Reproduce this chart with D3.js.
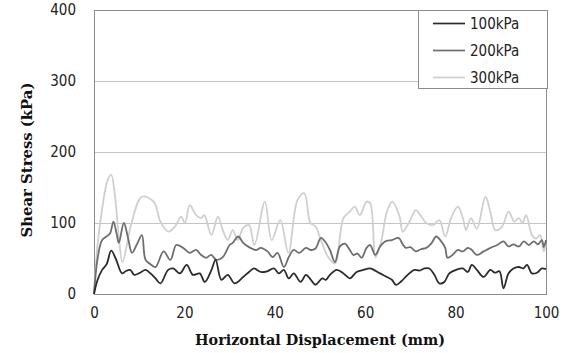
<!DOCTYPE html>
<html>
<head>
<meta charset="utf-8">
<script src="https://cdn.jsdelivr.net/npm/d3@7"></script>
<style>
  body { margin: 0; background: #fff; }
  svg { display: block; }
</style>
</head>
<body>
<div id="chart"></div>
<script>
const seriesNames = ['100kPa', '200kPa', '300kPa'];
const xTicks = [0, 20, 40, 60, 80, 100];
const yTicks = [0, 100, 200, 300, 400];

const disp100 = [0, 0.8, 1.8, 2.8, 3.8, 4.8, 6.2, 7.0, 8.0, 8.9, 10.2, 11.4, 12.5, 13.6, 14.7, 16.4, 17.5, 19.0, 20.5, 21.9, 23.4, 24.5, 26.0, 26.9, 28.2, 29.6, 31.1, 33.0, 34.3, 35.4, 36.9, 38.3, 39.8, 40.9, 42.0, 43.1, 44.2, 45.7, 46.9, 48.0, 49.0, 50.5, 51.3, 52.2, 53.7, 55.2, 56.6, 58.1, 59.6, 61.1, 62.2, 63.3, 64.8, 65.9, 66.8, 68.0, 69.4, 70.9, 72.0, 73.1, 74.2, 75.3, 76.4, 77.5, 78.6, 80.1, 81.6, 82.7, 83.6, 84.7, 86.2, 87.7, 88.7, 89.7, 90.6, 91.7, 92.8, 94.0, 95.0, 95.8, 96.9, 98.0, 99.1, 100];
const shear100 = [0, 20, 34, 42, 61, 50, 29, 32, 34, 27, 30, 34, 29, 22, 15, 34, 36, 29, 41, 27, 29, 17, 34, 48, 20, 27, 15, 24, 31, 36, 31, 32, 36, 29, 34, 22, 29, 17, 27, 20, 13, 22, 20, 27, 34, 29, 22, 31, 34, 36, 33, 29, 24, 20, 13, 18, 27, 34, 33, 36, 36, 27, 15, 17, 29, 34, 36, 31, 41, 34, 24, 34, 30, 32, 8, 29, 36, 38, 36, 41, 29, 30, 36, 35];

const disp200 = [0, 0.8, 1.8, 3.0, 3.6, 4.3, 5.0, 5.5, 6.6, 7.5, 8.4, 9.5, 10.6, 11.4, 12.5, 13.6, 15.4, 16.9, 18.2, 19.7, 21.2, 22.6, 23.7, 24.8, 25.9, 27.1, 28.5, 30.0, 30.7, 31.9, 33.0, 34.3, 35.8, 36.9, 38.4, 39.5, 40.6, 42.0, 43.1, 44.2, 45.4, 46.9, 48.0, 49.0, 50.2, 51.1, 52.2, 53.3, 54.4, 55.5, 56.6, 57.4, 58.3, 59.2, 60.3, 61.1, 62.2, 63.3, 64.4, 65.9, 67.4, 68.2, 69.0, 70.0, 71.2, 72.3, 73.5, 74.6, 75.7, 76.6, 77.7, 78.2, 79.3, 80.5, 81.6, 82.7, 83.6, 84.7, 86.2, 87.7, 89.2, 90.6, 91.7, 92.8, 94.0, 95.1, 96.2, 97.3, 98.2, 99.1, 99.5, 100];
const shear200 = [0, 50, 76, 82, 86, 102, 85, 72, 100, 80, 58, 70, 83, 48, 42, 38, 60, 48, 69, 65, 58, 62, 55, 51, 55, 48, 52, 69, 72, 81, 72, 66, 62, 65, 60, 52, 58, 38, 52, 62, 58, 65, 62, 64, 79, 74, 62, 45, 67, 71, 62, 55, 57, 51, 65, 69, 55, 67, 74, 76, 79, 71, 65, 66, 60, 63, 65, 71, 81, 76, 65, 51, 55, 62, 60, 65, 62, 55, 60, 65, 69, 74, 67, 70, 67, 74, 69, 74, 70, 76, 66, 76];

const disp300 = [0, 0.8, 1.8, 3.0, 3.8, 4.6, 5.5, 6.3, 8.3, 10.6, 13.2, 14.7, 16.4, 17.9, 19.3, 20.1, 21.2, 22.6, 23.7, 24.4, 26.0, 27.4, 28.5, 29.6, 30.7, 31.8, 33.0, 34.3, 35.5, 37.8, 39.3, 41.2, 43.0, 45.0, 46.5, 47.9, 49.0, 50.2, 51.8, 53.3, 55.2, 56.6, 57.7, 58.8, 60.3, 61.1, 62.3, 63.6, 64.8, 66.0, 67.6, 68.3, 69.8, 71.2, 72.3, 73.5, 75.0, 76.4, 77.7, 79.0, 80.5, 81.6, 82.3, 83.4, 84.7, 86.6, 87.7, 88.8, 90.3, 91.7, 93.0, 94.0, 94.8, 95.6, 96.9, 97.8, 98.7, 99.5, 100];
const shear300 = [0, 70, 120, 160, 168, 140, 80, 45, 100, 137, 130, 102, 88, 95, 109, 100, 125, 111, 107, 111, 83, 109, 90, 76, 90, 76, 93, 97, 69, 130, 76, 104, 58, 132, 142, 100, 95, 76, 52, 43, 107, 116, 123, 111, 130, 128, 52, 76, 116, 130, 109, 88, 102, 118, 110, 100, 97, 104, 81, 107, 123, 107, 90, 107, 92, 137, 115, 90, 95, 116, 102, 107, 100, 111, 83, 78, 83, 60, 70];

const series = [
  { name: seriesNames[0], x: disp100, y: shear100, color: '#2b2b2b' },
  { name: seriesNames[1], x: disp200, y: shear200, color: '#6e6e6e' },
  { name: seriesNames[2], x: disp300, y: shear300, color: '#cfcfcf' },
];

const W = 568, H = 353;
const margin = { top: 10, right: 22, bottom: 59, left: 94 };
const width = W - margin.left - margin.right;
const height = H - margin.top - margin.bottom;

const svg = d3.select('#chart').append('svg')
  .attr('width', W)
  .attr('height', H);

const g = svg.append('g')
  .attr('transform', `translate(${margin.left},${margin.top})`);

const x = d3.scaleLinear().domain([0, 100]).range([0, width]);
const y = d3.scaleLinear().domain([0, 400]).range([height, 0]);

// gridlines
g.append('g')
  .selectAll('line')
  .data(yTicks.filter(d => d > 0 && d < 400))
  .join('line')
    .attr('x1', 0)
    .attr('x2', width)
    .attr('y1', d => y(d) + 0.5)
    .attr('y2', d => y(d) + 0.5)
    .attr('stroke', '#c4c4c4')
    .attr('stroke-width', 1);

// frame
g.append('rect')
  .attr('x', 0.5)
  .attr('y', 0.5)
  .attr('width', width)
  .attr('height', height)
  .attr('fill', 'none')
  .attr('stroke', '#8c8c8c')
  .attr('stroke-width', 1);

// axes (labels only)
const tickFont = '"DejaVu Sans Condensed", "DejaVu Sans", sans-serif';
const yAxis = g.append('g')
  .call(d3.axisLeft(y).tickValues(yTicks).tickSize(0).tickPadding(18));
yAxis.select('.domain').remove();
yAxis.selectAll('text')
  .style('font-family', tickFont)
  .style('font-stretch', 'condensed')
  .style('font-size', '15px')
  .attr('fill', '#222');

const xAxis = g.append('g')
  .attr('transform', `translate(0,${height})`)
  .call(d3.axisBottom(x).tickValues(xTicks).tickSize(0).tickPadding(13));
xAxis.select('.domain').remove();
xAxis.selectAll('text')
  .style('font-family', tickFont)
  .style('font-stretch', 'condensed')
  .style('font-size', '15px')
  .attr('fill', '#222');

// lines
const line = d3.line()
  .x(d => x(d[0]))
  .y(d => y(d[1]))
  .curve(d3.curveCatmullRom.alpha(0.5));

// draw lightest first so darker ones sit on top
[...series].reverse().forEach(s => {
  g.append('path')
    .datum(s.x.map((v, i) => [v, s.y[i]]))
    .attr('fill', 'none')
    .attr('stroke', s.color)
    .attr('stroke-width', 1.8)
    .attr('stroke-linejoin', 'round')
    .attr('d', line);
});

// axis titles
const titleFont = '"DejaVu Serif", "Liberation Serif", serif';
svg.append('text')
  .attr('transform', `translate(32,${margin.top + height / 2 + 8}) rotate(-90)`)
  .attr('text-anchor', 'middle')
  .style('font-family', titleFont)
  .style('font-weight', 'bold')
  .style('font-size', '15px')
  .attr('textLength', 155)
  .attr('lengthAdjust', 'spacingAndGlyphs')
  .attr('fill', '#111')
  .text('Shear Stress (kPa)');

svg.append('text')
  .attr('x', 320)
  .attr('y', 345)
  .attr('text-anchor', 'middle')
  .style('font-family', titleFont)
  .style('font-weight', 'bold')
  .style('font-size', '15px')
  .attr('textLength', 250)
  .attr('lengthAdjust', 'spacingAndGlyphs')
  .attr('fill', '#111')
  .text('Horizontal Displacement (mm)');

// legend
const legend = svg.append('g').attr('transform', 'translate(418,10)');
legend.append('rect')
  .attr('x', 0.5)
  .attr('y', 0.5)
  .attr('width', 129)
  .attr('height', 78)
  .attr('fill', '#fff')
  .attr('stroke', '#8c8c8c');

const rows = legend.selectAll('g.item')
  .data(series)
  .join('g')
    .attr('class', 'item')
    .attr('transform', (d, i) => `translate(0,${13.5 + i * 27})`);

rows.append('line')
  .attr('x1', 15)
  .attr('x2', 47)
  .attr('stroke', d => d.color)
  .attr('stroke-width', 1.7);

rows.append('text')
  .attr('x', 52)
  .attr('dy', '0.35em')
  .style('font-family', tickFont)
  .style('font-stretch', 'condensed')
  .style('font-size', '15px')
  .attr('fill', '#222')
  .text(d => d.name);
</script>
</body>
</html>
